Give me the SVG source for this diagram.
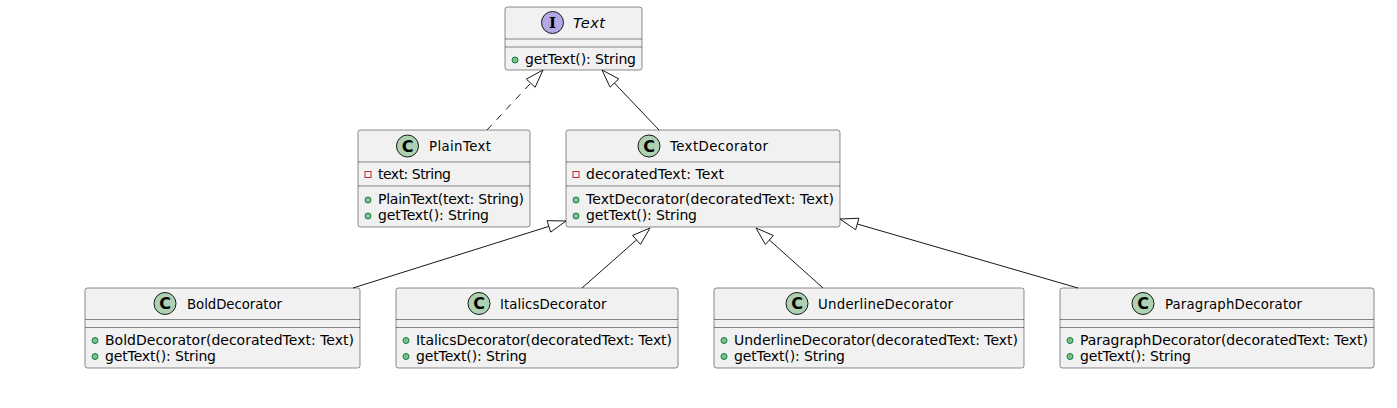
<svg xmlns="http://www.w3.org/2000/svg" width="1397" height="408" viewBox="0 0 1397 408">
<style>
.box{fill:#F1F1F1;stroke:#181818;stroke-width:0.5}
.sep{stroke:#181818;stroke-width:0.5}
.cc{fill:#ADD1B2;stroke:#181818;stroke-width:1}
.ci{fill:#B4A7E5;stroke:#181818;stroke-width:1}
.cl{font-family:"DejaVu Sans","Liberation Sans",sans-serif;font-size:16px;font-weight:bold;fill:#000;text-anchor:middle}
.il{font-family:"DejaVu Serif","Liberation Serif",serif;font-size:15px;font-weight:bold;fill:#000;text-anchor:middle}
.nm{font-family:"DejaVu Sans","Liberation Sans",sans-serif;font-size:13.3px;fill:#000}
.it{font-family:"DejaVu Sans","Liberation Sans",sans-serif;font-size:14.5px;font-style:italic;fill:#000}
.mb{font-family:"DejaVu Sans","Liberation Sans",sans-serif;font-size:14px;fill:#000}
.pub{fill:#84BE84;stroke:#038048;stroke-width:1}
.prv{fill:none;stroke:#C82930;stroke-width:1}
.ln{fill:none;stroke:#181818;stroke-width:1}
.hd{fill:none;stroke:#181818;stroke-width:1}
</style>
<rect width="1397" height="408" fill="#FFFFFF"/>
<g id="Text">
<rect class="box" x="505" y="7" width="137" height="63" rx="2.5"/>
<circle class="ci" cx="552.5" cy="22.5" r="11"/>
<text class="il" x="552.5" y="28">I</text>
<text class="it" x="573" y="28" textLength="32">Text</text>
<line class="sep" x1="505" y1="39" x2="642" y2="39"/>
<line class="sep" x1="505" y1="47" x2="642" y2="47"/>
<circle class="pub" cx="515" cy="60" r="3"/>
<text class="mb" x="525" y="64" textLength="111">getText(): String</text>
</g>
<g id="PlainText">
<rect class="box" x="358" y="130" width="172" height="97" rx="2.5"/>
<circle class="cc" cx="407.5" cy="146" r="11"/>
<text class="cl" x="407.5" y="151.5">C</text>
<text class="nm" x="429" y="151" textLength="62">PlainText</text>
<line class="sep" x1="358" y1="162" x2="530" y2="162"/>
<rect class="prv" x="365" y="171.5" width="6" height="6"/>
<text class="mb" x="378" y="178.5" textLength="73">text: String</text>
<line class="sep" x1="358" y1="186" x2="530" y2="186"/>
<circle class="pub" cx="368" cy="200" r="3"/>
<text class="mb" x="378" y="204" textLength="146">PlainText(text: String)</text>
<circle class="pub" cx="368" cy="216" r="3"/>
<text class="mb" x="378" y="220" textLength="111">getText(): String</text>
</g>
<g id="TextDecorator">
<rect class="box" x="566" y="130" width="274" height="97" rx="2.5"/>
<circle class="cc" cx="649" cy="146" r="11"/>
<text class="cl" x="649" y="151.5">C</text>
<text class="nm" x="670" y="151" textLength="98">TextDecorator</text>
<line class="sep" x1="566" y1="162" x2="840" y2="162"/>
<rect class="prv" x="573" y="171.5" width="6" height="6"/>
<text class="mb" x="586" y="178.5" textLength="138">decoratedText: Text</text>
<line class="sep" x1="566" y1="186" x2="840" y2="186"/>
<circle class="pub" cx="576" cy="200" r="3"/>
<text class="mb" x="586" y="204" textLength="248">TextDecorator(decoratedText: Text)</text>
<circle class="pub" cx="576" cy="216" r="3"/>
<text class="mb" x="586" y="220" textLength="111">getText(): String</text>
</g>
<g id="BoldDecorator">
<rect class="box" x="85" y="288" width="275" height="80" rx="2.5"/>
<circle class="cc" cx="165" cy="303.5" r="11"/>
<text class="cl" x="165" y="309">C</text>
<text class="nm" x="187" y="308.5" textLength="95">BoldDecorator</text>
<line class="sep" x1="85" y1="319.5" x2="360" y2="319.5"/>
<line class="sep" x1="85" y1="327.5" x2="360" y2="327.5"/>
<circle class="pub" cx="95" cy="340.5" r="3"/>
<text class="mb" x="105" y="344.5" textLength="249">BoldDecorator(decoratedText: Text)</text>
<circle class="pub" cx="95" cy="356.5" r="3"/>
<text class="mb" x="105" y="360.5" textLength="111">getText(): String</text>
</g>
<g id="ItalicsDecorator">
<rect class="box" x="396" y="288" width="282" height="80" rx="2.5"/>
<circle class="cc" cx="479" cy="303.5" r="11"/>
<text class="cl" x="479" y="309">C</text>
<text class="nm" x="500" y="308.5" textLength="106.5">ItalicsDecorator</text>
<line class="sep" x1="396" y1="319.5" x2="678" y2="319.5"/>
<line class="sep" x1="396" y1="327.5" x2="678" y2="327.5"/>
<circle class="pub" cx="406" cy="340.5" r="3"/>
<text class="mb" x="416" y="344.5" textLength="256">ItalicsDecorator(decoratedText: Text)</text>
<circle class="pub" cx="406" cy="356.5" r="3"/>
<text class="mb" x="416" y="360.5" textLength="111">getText(): String</text>
</g>
<g id="UnderlineDecorator">
<rect class="box" x="714" y="288" width="310" height="80" rx="2.5"/>
<circle class="cc" cx="797" cy="303.5" r="11"/>
<text class="cl" x="797" y="309">C</text>
<text class="nm" x="818" y="308.5" textLength="135">UnderlineDecorator</text>
<line class="sep" x1="714" y1="319.5" x2="1024" y2="319.5"/>
<line class="sep" x1="714" y1="327.5" x2="1024" y2="327.5"/>
<circle class="pub" cx="724" cy="340.5" r="3"/>
<text class="mb" x="734" y="344.5" textLength="284">UnderlineDecorator(decoratedText: Text)</text>
<circle class="pub" cx="724" cy="356.5" r="3"/>
<text class="mb" x="734" y="360.5" textLength="111">getText(): String</text>
</g>
<g id="ParagraphDecorator">
<rect class="box" x="1060" y="288" width="314" height="80" rx="2.5"/>
<circle class="cc" cx="1143" cy="303.5" r="11"/>
<text class="cl" x="1143" y="309">C</text>
<text class="nm" x="1165" y="308.5" textLength="137">ParagraphDecorator</text>
<line class="sep" x1="1060" y1="319.5" x2="1374" y2="319.5"/>
<line class="sep" x1="1060" y1="327.5" x2="1374" y2="327.5"/>
<circle class="pub" cx="1070" cy="340.5" r="3"/>
<text class="mb" x="1080" y="344.5" textLength="288">ParagraphDecorator(decoratedText: Text)</text>
<circle class="pub" cx="1070" cy="356.5" r="3"/>
<text class="mb" x="1080" y="360.5" textLength="111">getText(): String</text>
</g>
<g id="connectors">
<line class="ln" x1="487" y1="130" x2="530.72" y2="83.16" stroke-dasharray="7,7"/>
<polygon class="hd" points="543,70 535.11,87.25 526.33,79.07"/>
<line class="ln" x1="659" y1="130" x2="614.4" y2="83.05"/>
<polygon class="hd" points="602,70 610.05,87.18 618.75,78.92"/>
<line class="ln" x1="353" y1="288" x2="548.83" y2="226.4"/>
<polygon class="hd" points="566,221 550.63,232.12 547.03,220.68"/>
<line class="ln" x1="582" y1="288" x2="636.5" y2="239.91"/>
<polygon class="hd" points="650,228 640.47,244.41 632.53,235.41"/>
<line class="ln" x1="823" y1="288" x2="769.41" y2="240.01"/>
<polygon class="hd" points="756,228 765.41,244.48 773.41,235.54"/>
<line class="ln" x1="1078" y1="288" x2="857.29" y2="224.01"/>
<polygon class="hd" points="840,219 855.62,229.77 858.96,218.25"/>
</g>
</svg>
